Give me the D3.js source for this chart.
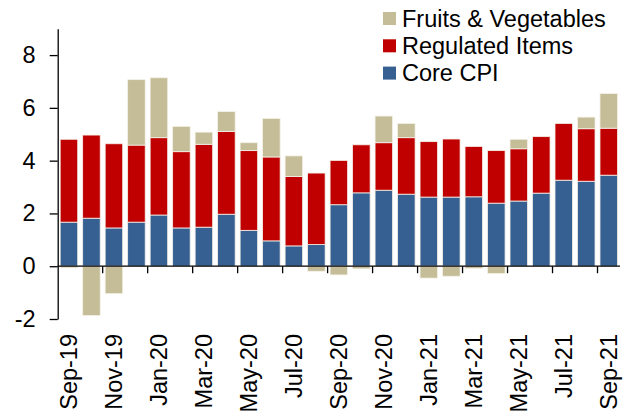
<!DOCTYPE html>
<html>
<head>
<meta charset="utf-8">
<script src="https://cdnjs.cloudflare.com/ajax/libs/d3/7.8.5/d3.min.js"></script>
<style>
  body { margin: 0; background: #fff; }
  text { font-family: "Liberation Sans", Arial, sans-serif; fill: #000; }
</style>
</head>
<body>
<div id="chart"></div>
<script>
// months shown on the x axis (one bar per month)
var months = ["Sep-19","Oct-19","Nov-19","Dec-19","Jan-20","Feb-20","Mar-20","Apr-20","May-20",
  "Jun-20","Jul-20","Aug-20","Sep-20","Oct-20","Nov-20","Dec-20","Jan-21","Feb-21","Mar-21",
  "Apr-21","May-21","Jun-21","Jul-21","Aug-21","Sep-21"];

// contributions
var coreCPI = [1.67,1.82,1.45,1.67,1.94,1.45,1.48,1.97,1.36,0.96,0.77,0.82,2.33,2.78,2.88,2.73,
  2.62,2.62,2.63,2.39,2.47,2.77,3.26,3.22,3.45];
var regulated = [3.14,3.15,3.19,2.92,2.93,2.89,3.14,3.14,3.02,3.18,2.63,2.71,1.68,1.82,1.80,2.14,
  2.10,2.20,1.91,1.99,1.98,2.14,2.15,1.99,1.78];
var fruitsVeg = [-0.06,-1.87,-1.04,2.48,2.27,0.96,0.46,0.75,0.30,1.46,0.78,-0.19,-0.33,-0.10,1.01,0.54,
  -0.45,-0.38,-0.08,-0.28,0.36,0.0,0.0,0.44,1.31];

var yTicks = [-2, 0, 2, 4, 6, 8];

var seriesKeys = ["core", "reg", "fv"];
var seriesNames = {core: "Core CPI", reg: "Regulated Items", fv: "Fruits & Vegetables"};
var colors = {core: "#376092", reg: "#C00000", fv: "#C4BD97"};

var width = 628, height = 416;
var fontSize = 23.5;

var table = months.map(function(m, i) {
  return {month: m, core: coreCPI[i], reg: regulated[i], fv: fruitsVeg[i]};
});

var svg = d3.select("#chart").append("svg")
  .attr("width", width)
  .attr("height", height);

var x = d3.scaleBand()
  .domain(months)
  .range([57.7, 620])
  .paddingInner(0.22)
  .paddingOuter(0.11);

var y = d3.scaleLinear()
  .domain([-2, 9])
  .range([319, 28.7]);

var stacked = d3.stack()
  .keys(seriesKeys)
  .offset(d3.stackOffsetDiverging)(table);

// bars
svg.append("g").selectAll("g")
  .data(stacked)
  .enter()
  .append("g")
  .attr("fill", function(d) { return colors[d.key]; })
  .selectAll("rect")
  .data(function(d) { return d; })
  .enter()
  .append("rect")
  .attr("x", function(d) { return x(d.data.month); })
  .attr("width", x.bandwidth())
  .attr("y", function(d) { return y(Math.max(d[0], d[1])); })
  .attr("height", function(d) { return Math.abs(y(d[0]) - y(d[1])); })
  .attr("stroke", "#f4f1e8")
  .attr("stroke-width", 0.8);

// y axis (plain hyphen for negatives, like the original)
var yAxis = svg.append("g")
  .attr("transform", "translate(57.7,0)")
  .call(d3.axisLeft(y).tickValues(yTicks).tickSize(8).tickSizeOuter(0).tickPadding(14)
    .tickFormat(function(d) { return String(d); }));
yAxis.select(".domain").attr("stroke", "#000").attr("stroke-width", 1.3);
yAxis.selectAll(".tick line").attr("stroke", "#000").attr("stroke-width", 1.3);
yAxis.selectAll(".tick text")
  .style("font-size", fontSize + "px")
  .style("font-family", "'Liberation Sans', Arial, sans-serif");

// x axis along zero
var step = x.step();
var xAxis = svg.append("g");
xAxis.append("line")
  .attr("x1", 57.7)
  .attr("x2", x.range()[1])
  .attr("y1", y(0))
  .attr("y2", y(0))
  .attr("stroke", "#000")
  .attr("stroke-width", 1.3);

var tickMonths = months.filter(function(d, i) { return i % 2 == 0 && i > 0; });
xAxis.selectAll(".xtick")
  .data(tickMonths)
  .enter()
  .append("line")
  .attr("class", "xtick")
  .attr("x1", function(d) { return x(d) - step * x.paddingInner() / 2; })
  .attr("x2", function(d) { return x(d) - step * x.paddingInner() / 2; })
  .attr("y1", y(0))
  .attr("y2", y(0) + 7)
  .attr("stroke", "#000")
  .attr("stroke-width", 1.3);

var labelMonths = months.filter(function(d, i) { return i % 2 == 0; });
xAxis.selectAll(".xlabel")
  .data(labelMonths)
  .enter()
  .append("text")
  .attr("class", "xlabel")
  .attr("transform", function(d) {
    return "translate(" + (x(d) + x.bandwidth() / 2) + "," + (y(-2) + 15) + ") rotate(-90)";
  })
  .attr("dy", "0.36em")
  .attr("text-anchor", "end")
  .style("font-size", fontSize + "px")
  .text(function(d) { return d; });

// legend
var legendOrder = ["fv", "reg", "core"];
var legend = svg.append("g")
  .attr("transform", "translate(383,12)");
var item = legend.selectAll("g")
  .data(legendOrder)
  .enter()
  .append("g")
  .attr("transform", function(d, i) { return "translate(0," + (i * 27.3) + ")"; });
item.append("rect")
  .attr("width", 13)
  .attr("height", 13)
  .attr("fill", function(d) { return colors[d]; });
item.append("text")
  .attr("x", 19)
  .attr("y", 14.5)
  .style("font-size", fontSize + "px")
  .text(function(d) { return seriesNames[d]; });
</script>
</body>
</html>
